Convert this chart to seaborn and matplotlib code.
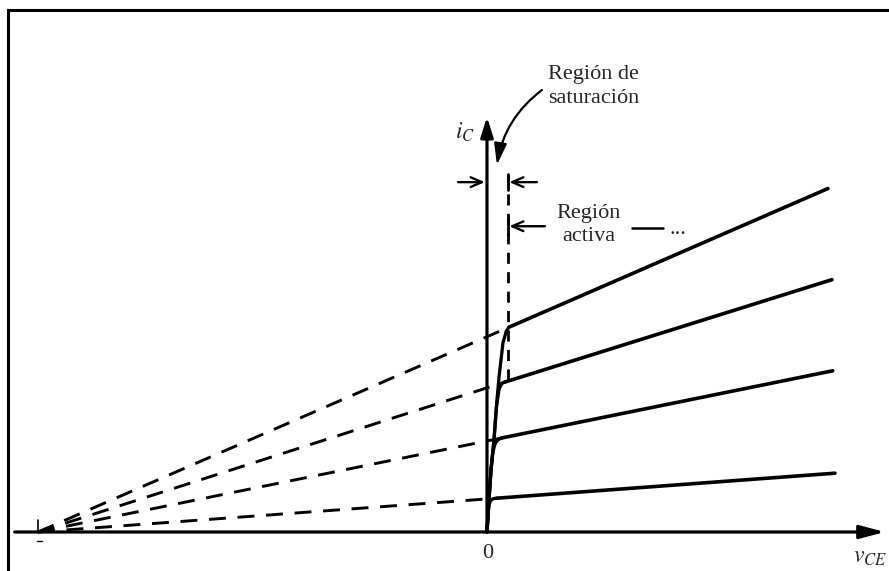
import matplotlib
matplotlib.use("Agg")
import matplotlib.pyplot as plt
import seaborn as sns

# Early voltage (convergence point of the extrapolated lines)
V_A = -50.0

# knee of each curve (start of active region), top curve first
knee_v = [2.45, 2.0, 1.67, 1.11]
knee_i = [4.18, 3.06, 1.92, 0.69]

# right end of each active-region line
end_v = [37.97, 38.42, 38.5, 38.75]
end_i = [7.01, 5.15, 3.29, 1.20]

# saturation region curves (from origin up to the knee)
sat_v = [
    [0, 0.22, 0.45, 0.78, 1.11, 1.34, 1.78, 2.15, 2.45],
    [0, 0.22, 0.45, 0.78, 1.05, 1.35, 1.65, 2.0],
    [0, 0.22, 0.45, 0.65, 0.9, 1.2, 1.67],
    [0, 0.1, 0.22, 0.4, 0.7, 1.11],
]
sat_i = [
    [0, 0.65, 1.27, 1.88, 2.69, 3.16, 3.86, 4.10, 4.18],
    [0, 0.65, 1.27, 1.88, 2.55, 2.92, 3.03, 3.06],
    [0, 0.65, 1.27, 1.62, 1.80, 1.88, 1.92],
    [0, 0.30, 0.55, 0.64, 0.68, 0.69],
]

# saturation boundary (dashed vertical) and measurement arrows
sat_edge_v = 2.34
sat_edge_i = [3.1, 7.33]
arrow_i = [7.14, 6.24]

sns.set_theme(style="white")
plt.rcParams["font.family"] = ["Liberation Serif", "DejaVu Serif"]
plt.rcParams["mathtext.fontset"] = "stix"

fig = plt.figure(figsize=(8.89, 5.71), dpi=100)
ax = fig.add_axes([8 / 889, 0, 881 / 889, 561 / 571])
ax.set_xlim(-53.34, 44.77)
ax.set_ylim(-0.796, 10.653)
ax.set_xticks([])
ax.set_yticks([])
sns.despine(ax=ax, top=False, right=True, left=False, bottom=True)
for s in ["left", "top"]:
    ax.spines[s].set_linewidth(2.2)
    ax.spines[s].set_color("black")

lw = 2.6
# active region lines
for k in range(4):
    sns.lineplot(x=[knee_v[k], end_v[k]], y=[knee_i[k], end_i[k]],
                 color="black", lw=lw, ax=ax, sort=False, estimator=None)
# saturation curves
for k in range(4):
    sns.lineplot(x=sat_v[k], y=sat_i[k], color="black", lw=lw * 0.9,
                 ax=ax, sort=False, estimator=None)
# dashed extrapolations to -V_A
for k in range(4):
    sns.lineplot(x=[V_A, knee_v[k]], y=[0, knee_i[k]], color="black", lw=2.1,
                 linestyle=(0, (5.8, 4.0)), ax=ax, sort=False, estimator=None)

# axes with arrows
ax.annotate("", xy=(44.3, 0), xytext=(-52.6, 0),
            arrowprops=dict(arrowstyle="-|>,head_length=1.5,head_width=0.4",
                            color="black", lw=2.3, shrinkA=0, shrinkB=0,
                            mutation_scale=10))
ax.annotate("", xy=(0, 8.47), xytext=(0, 0),
            arrowprops=dict(arrowstyle="-|>,head_length=1.2,head_width=0.38",
                            color="black", lw=2.3, shrinkA=0, shrinkB=0,
                            mutation_scale=10))

# small mark at -V_A
ax.plot([V_A, V_A], [0, 0.25], color="black", lw=1.2)
ax.plot([V_A - 0.1, V_A + 0.5], [-0.18, -0.18], color="black", lw=1.0)

# saturation boundary
ax.plot([sat_edge_v, sat_edge_v], sat_edge_i, color="black", lw=2.0,
        linestyle=(0, (4, 3)))
for yi in arrow_i:
    ax.plot([sat_edge_v, sat_edge_v], [yi - 0.17, yi + 0.17], color="black", lw=2.0)

arr = dict(arrowstyle="->,head_length=0.8,head_width=0.35", color="black",
           lw=1.7, shrinkA=0, shrinkB=0, mutation_scale=10)
ax.annotate("", xy=(-0.25, arrow_i[0]), xytext=(-3.23, arrow_i[0]), arrowprops=arr)
ax.annotate("", xy=(sat_edge_v + 0.15, arrow_i[0]), xytext=(5.57, arrow_i[0]), arrowprops=arr)
ax.annotate("", xy=(sat_edge_v + 0.15, arrow_i[1]), xytext=(6.46, arrow_i[1]), arrowprops=arr)

# curved arrow to saturation region
ax.annotate("", xy=(1.11, 7.49), xytext=(6.12, 9.02),
            arrowprops=dict(arrowstyle="-|>,head_length=1.3,head_width=0.38",
                            connectionstyle="arc3,rad=0.2", color="black",
                            lw=1.6, shrinkA=0, shrinkB=0, mutation_scale=10))

fs = 16
ax.text(6.79, 9.10, "Región de\nsaturación", ha="left", va="center",
        fontsize=fs, linespacing=1.35)
ax.text(11.36, 6.27, "Región\nactiva", ha="center", va="center",
        fontsize=fs, linespacing=1.25)
ax.plot([16.15, 19.6], [6.20, 6.20], color="black", lw=1.8)
ax.text(20.3, 6.08, "...", ha="left", va="baseline", fontsize=fs)

ax.text(-2.45, 8.16, r"$i_C$", ha="center", va="center", fontsize=17)
ax.text(42.6, -0.52, r"$v_{CE}$", ha="center", va="center", fontsize=17)
ax.text(0.1, -0.43, "0", ha="center", va="center", fontsize=fs)

fig.savefig("out.png", dpi=100, facecolor="white")
